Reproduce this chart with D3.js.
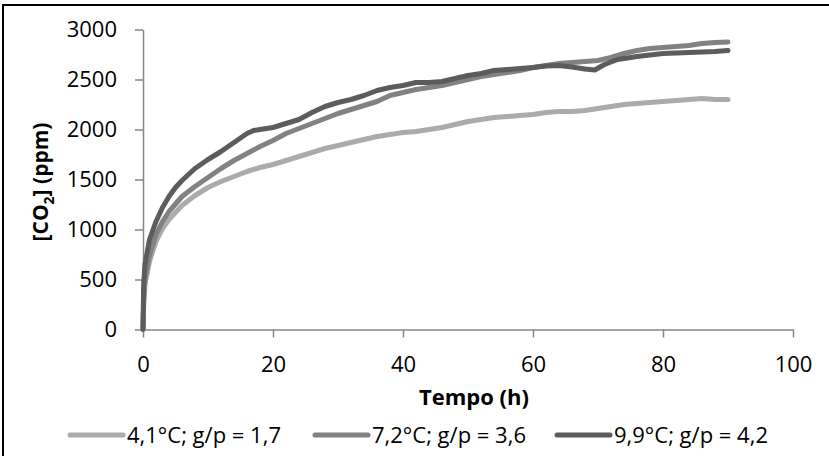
<!DOCTYPE html>
<html>
<head>
<meta charset="utf-8">
<script src="https://cdn.jsdelivr.net/npm/d3@7"></script>
<style>
    body { margin: 0; background: #fff; }
    svg { display: block; font-family: "Open Sans", sans-serif; }
</style>
</head>
<body>
<div id="chart"></div>
<script>
// 数据：时间 (h) 与 CO2 浓度 (ppm)
const seriesNames = ["4,1°C; g/p = 1,7", "7,2°C; g/p = 3,6", "9,9°C; g/p = 4,2"];
const seriesColors = ["#ababab", "#828282", "#5c5c5c"];

const tempoLight = [0, 0.1, 0.3, 1, 2, 3, 4, 6, 8, 10, 12, 14, 16, 18, 20, 22, 24, 26, 28, 30, 32, 34, 36, 38, 40, 42, 44, 46, 48, 50, 52, 54, 56, 58, 60, 62, 64, 66, 68, 70, 72, 74, 76, 78, 80, 82, 84, 86, 88, 90];
const co2Light = [0, 250, 450, 680, 880, 1010, 1100, 1240, 1340, 1420, 1480, 1530, 1580, 1620, 1650, 1690, 1730, 1770, 1810, 1840, 1870, 1900, 1930, 1950, 1970, 1980, 2000, 2020, 2050, 2080, 2100, 2120, 2130, 2140, 2150, 2170, 2180, 2180, 2190, 2210, 2230, 2250, 2260, 2270, 2280, 2290, 2300, 2310, 2300, 2300];

const tempoMid = [0, 0.1, 0.3, 1, 2, 3, 4, 6, 8, 10, 12, 14, 16, 18, 20, 22, 24, 26, 28, 30, 32, 34, 36, 38, 40, 42, 44, 46, 48, 50, 52, 54, 56, 58, 60, 62, 64, 66, 68, 70, 72, 74, 76, 78, 80, 82, 84, 86, 88, 90];
const co2Mid = [0, 300, 500, 740, 950, 1080, 1180, 1330, 1430, 1520, 1610, 1690, 1760, 1830, 1890, 1960, 2010, 2060, 2110, 2160, 2200, 2240, 2280, 2340, 2370, 2400, 2420, 2440, 2470, 2500, 2530, 2550, 2570, 2590, 2620, 2640, 2660, 2670, 2680, 2690, 2720, 2760, 2790, 2810, 2820, 2830, 2840, 2860, 2870, 2875];

const tempoDark = [0, 0.1, 0.3, 1, 2, 3, 4, 5, 6, 8, 10, 12, 14, 16, 17, 18, 20, 22, 24, 26, 28, 30, 32, 34, 36, 38, 40, 42, 44, 46, 48, 50, 52, 54, 56, 58, 60, 62, 64, 66, 68, 69.5, 71, 73, 76, 80, 84, 88, 90];
const co2Dark = [0, 450, 650, 900, 1080, 1220, 1330, 1420, 1490, 1610, 1700, 1780, 1870, 1960, 1990, 2000, 2020, 2060, 2100, 2170, 2230, 2270, 2300, 2340, 2390, 2420, 2440, 2470, 2470, 2480, 2510, 2540, 2560, 2590, 2600, 2610, 2620, 2635, 2640, 2625, 2605, 2595, 2650, 2700, 2730, 2760, 2770, 2780, 2790];

const xTicks = [0, 20, 40, 60, 80, 100];
const yTicks = [0, 500, 1000, 1500, 2000, 2500, 3000];

const width = 829, height = 456;
const svg = d3.select("#chart").append("svg")
    .attr("width", width)
    .attr("height", height);

// 外框（只看得到上边和左边）
svg.append("rect")
    .attr("x", 3).attr("y", 5)
    .attr("width", 900).attr("height", 600)
    .attr("fill", "none")
    .attr("stroke", "#000")
    .attr("stroke-width", 2);

const x = d3.scaleLinear().domain([0, 100]).range([143, 793]);
const y = d3.scaleLinear().domain([0, 3000]).range([329.5, 29.5]);

const axisColor = "#868686";

// 坐标轴
const gx = svg.append("g")
    .attr("transform", `translate(0,${y(0)})`)
    .call(d3.axisBottom(x).tickValues(xTicks).tickSize(8).tickSizeOuter(0).tickFormat(d3.format("d")));
gx.selectAll("text").attr("y", 42).attr("dy", 0);

const gy = svg.append("g")
    .attr("transform", `translate(${x(0)},0)`)
    .call(d3.axisLeft(y).tickValues(yTicks).tickSize(8).tickSizeOuter(0).tickPadding(18).tickFormat(d3.format("d")));

[gx, gy].forEach(g => {
    g.select(".domain").attr("stroke", axisColor).attr("stroke-width", 1.5);
    g.selectAll(".tick line").attr("stroke", axisColor).attr("stroke-width", 1.5);
    g.selectAll("text")
        .attr("fill", "#000")
        .style("font-size", "22px")
        .style("font-family", "'Open Sans', sans-serif");
});

// 曲线
const series = [
    { t: tempoLight, v: co2Light },
    { t: tempoMid, v: co2Mid },
    { t: tempoDark, v: co2Dark }
];
const line = d3.line().x(d => x(d[0])).y(d => y(d[1]));

series.forEach((s, i) => {
    svg.append("path")
        .datum(s.t.map((t, k) => [t, s.v[k]]))
        .attr("fill", "none")
        .attr("stroke", seriesColors[i])
        .attr("stroke-width", 5)
        .attr("stroke-linejoin", "round")
        .attr("stroke-linecap", "round")
        .attr("d", line);
});

// 轴标题
svg.append("text")
    .attr("x", 474).attr("y", 405)
    .attr("text-anchor", "middle")
    .style("font-size", "22px")
    .style("font-weight", "bold")
    .text("Tempo (h)");

const yTitle = svg.append("text")
    .attr("transform", "translate(48,182) rotate(-90)")
    .attr("text-anchor", "middle")
    .style("font-size", "21px")
    .style("font-weight", "bold");
yTitle.append("tspan").text("[CO");
yTitle.append("tspan").attr("dy", 6).style("font-size", "14px").text("2");
yTitle.append("tspan").attr("dy", -6).text("] (ppm)");

// 图例
const legendX = [68, 313, 555];
seriesNames.forEach((name, i) => {
    const g = svg.append("g").attr("transform", `translate(${legendX[i]},435)`);
    g.append("line")
        .attr("x1", 2).attr("x2", 55)
        .attr("stroke", seriesColors[i])
        .attr("stroke-width", 5)
        .attr("stroke-linecap", "round");
    g.append("text")
        .attr("x", 59).attr("y", 8)
        .style("font-size", "22px")
        .text(name);
});
</script>
</body>
</html>
